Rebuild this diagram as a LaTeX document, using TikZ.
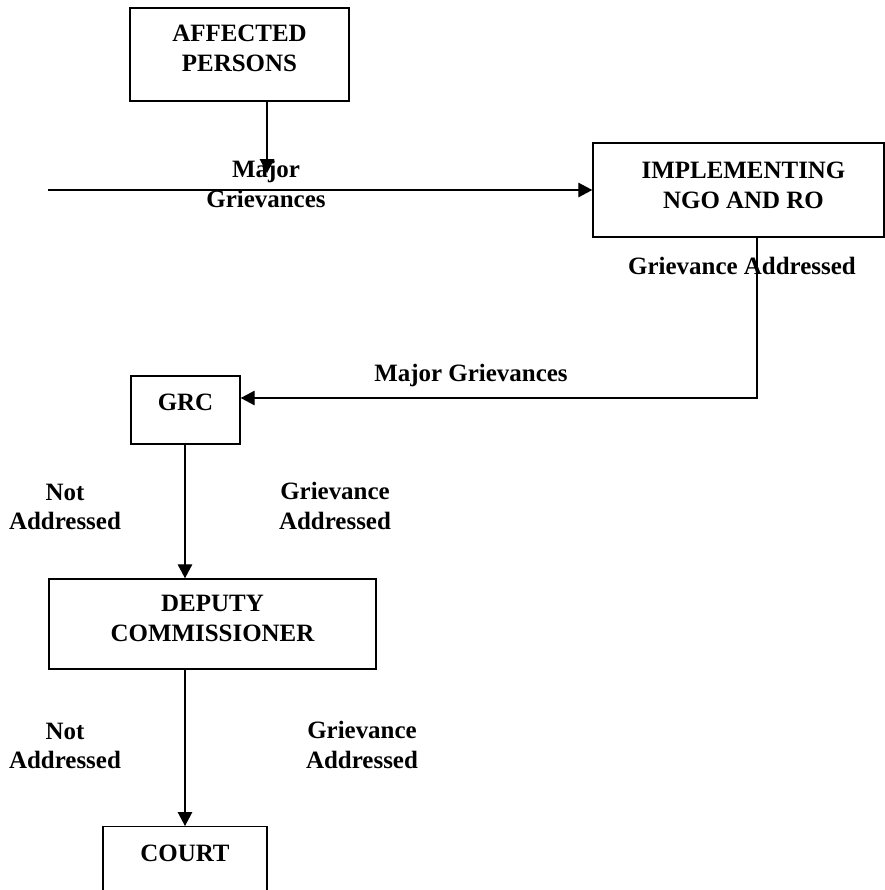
\documentclass[tikz,border=0pt]{standalone}
\usepackage{fontspec}
\setmainfont{Liberation Serif}
\usepackage{tikz}
\usetikzlibrary{arrows.meta,positioning,calc}
\tikzset{
  box/.style={draw,line width=0.8pt,align=center,inner sep=0pt},
  lbl/.style={align=center,inner sep=0pt},
  flow/.style={line width=0.75pt,-{Triangle[length=0.28cm,width=0.29cm]}}
}
\newcommand{\lift}[1]{\rule[-#1]{0pt}{#1}}

\begin{document}
\begin{tikzpicture}[x=0.02cm,y=-0.02cm,font=\fontsize{14.2}{16.8}\selectfont\bfseries]
\useasboundingbox (0,0) rectangle (885,890);
% boxes
\node[box,minimum width=219*0.02cm,minimum height=93*0.02cm] (ap) at (239.5,54.5) {AFFECTED\\PERSONS\lift{0.26cm}};
\node[box,minimum width=291*0.02cm,minimum height=94*0.02cm] (ngo) at (738.5,190) {\hspace{0.2cm}IMPLEMENTING\\\hspace{0.2cm}NGO AND RO\lift{0.2cm}};
\node[box,minimum width=109*0.02cm,minimum height=68*0.02cm] (grc) at (185.5,410) {GRC\lift{0.32cm}};
\node[box,minimum width=327*0.02cm,minimum height=90*0.02cm] (dc) at (212.5,624) {DEPUTY\\COMMISSIONER\lift{0.22cm}};
\node[box,anchor=north,minimum width=164*0.02cm,text height=0.7cm,text depth=1cm] (court) at (185,826) {COURT};
% labels
\node[lbl] (mg1) at (266,184) {Major\\Grievances};
\node[lbl] (ga1) at (742,266) {Grievance Addressed};
\node[lbl] (mg2) at (471,375) {Major Grievances};
\node[lbl] (na1) at (65,507) {Not\\Addressed};
\node[lbl] (ga2) at (335,506) {Grievance\\Addressed};
\node[lbl] (na2) at (65,746) {Not\\Addressed};
\node[lbl] (ga3) at (362,745) {Grievance\\Addressed};
% connectors
\coordinate (tip) at (267,173);
\coordinate (in) at (48,190);
\coordinate (turn) at (757,398);
\draw[flow] (ap.south -| tip) -- (tip);
\draw[flow] (in) -- (in -| ngo.west);
\draw[flow] (ngo.south -| turn) -- (turn) -- (turn -| grc.east);
\draw[flow] (grc.south -| court.north) -- (dc.north -| court.north);
\draw[flow] (dc.south -| court.north) -- (court.north);
\end{tikzpicture}
\end{document}
